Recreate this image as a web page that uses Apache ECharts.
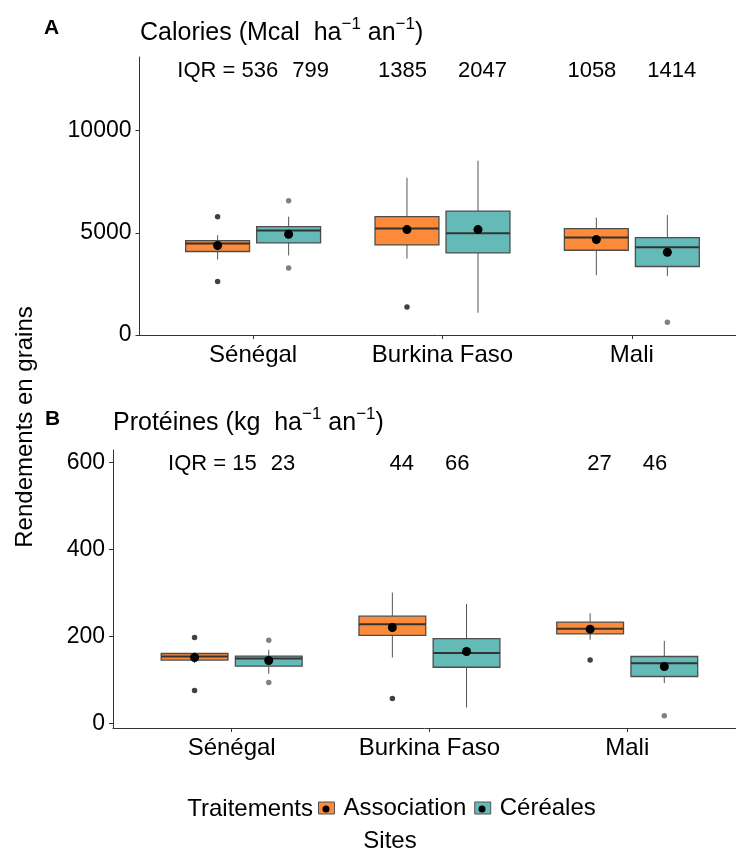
<!DOCTYPE html>
<html>
<head>
<meta charset="utf-8">
<script src="https://cdn.jsdelivr.net/npm/echarts@6/dist/echarts.min.js"></script>
<style>
  html, body { margin: 0; padding: 0; background: #fff; }
  #chart { width: 736px; height: 849px; }
</style>
</head>
<body>
<div id="chart"></div>
<script>
const sites = ['Sénégal', 'Burkina Faso', 'Mali'];
const treatments = ['Association', 'Céréales'];

// box stats per site: [whisker low, Q1, median, Q3, whisker high]
const calAssoc = [[3693, 4084, 4473, 4620, 4878], [3741, 4405, 5205, 5790, 7693], [2927, 4147, 4766, 5205, 5741]];
const calCereal = [[3888, 4503, 5107, 5302, 5790], [1088, 4017, 4976, 6064, 8522], [2893, 3352, 4293, 4766, 5868]];
const calAssocMean = [4376, 5156, 4668];
const calCerealMean = [4927, 5156, 4049];
// outliers: [site index, value]
const calAssocOut = [[0, 5790], [0, 2620], [1, 1366]];
const calCerealOut = [[0, 6571], [0, 3283], [2, 620]];
const calAssocIqr = [536, 1385, 1058];
const calCerealIqr = [799, 2047, 1414];

const proAssoc = [[138.5, 145.4, 153.7, 160.6, 163.8], [151.4, 202.3, 228, 246.3, 300.5], [192, 205.6, 217.2, 232.6, 253.2]];
const proCereal = [[114, 131.6, 149.1, 154.6, 169], [36.7, 129, 161.5, 195, 274.5], [92.7, 107.8, 138.5, 153.7, 189.7]];
const proAssocMean = [151.4, 220.2, 216.5];
const proCerealMean = [144.5, 165.1, 130.7];
const proAssocOut = [[0, 197.3], [0, 75.7], [1, 57.3], [2, 145.4]];
const proCerealOut = [[0, 191.3], [0, 94], [2, 17.7]];
const proAssocIqr = [15, 44, 27];
const proCerealIqr = [23, 66, 46];

const calTicks = [0, 5000, 10000];
const proTicks = [0, 200, 400, 600];

const FONT = '"Liberation Sans", Arial, sans-serif';
const ORANGE = '#FB8B3B';
const TEAL = '#64BAB7';
const DODGE = 0.1875;
const BOX_W = 0.3375;

var chart = echarts.init(document.getElementById('chart'));

function boxSeries(name, stats, offset, color, idx) {
    return {
        name: name,
        type: 'custom',
        xAxisIndex: idx,
        yAxisIndex: idx,
        itemStyle: {color: color},
        z: 2,
        encode: {x: 0, y: [1, 2, 3, 4, 5]},
        data: stats.map((s, i) => [i + 1 + offset].concat(s)),
        renderItem: (params, api) => {
            const x = api.value(0);
            const lo = api.coord([x, api.value(1)]);
            const q1 = api.coord([x, api.value(2)]);
            const med = api.coord([x, api.value(3)]);
            const q3 = api.coord([x, api.value(4)]);
            const hi = api.coord([x, api.value(5)]);
            const half = api.size([BOX_W, 0])[0] / 2;
            const wStyle = {stroke: '#555', lineWidth: 1};
            return {
                type: 'group',
                children: [
                    {type: 'line', shape: {x1: hi[0], y1: hi[1], x2: hi[0], y2: q3[1]}, style: wStyle},
                    {type: 'line', shape: {x1: lo[0], y1: q1[1], x2: lo[0], y2: lo[1]}, style: wStyle},
                    {type: 'rect', shape: {x: med[0] - half, y: q3[1], width: half * 2, height: q1[1] - q3[1]},
                        style: {fill: color, stroke: '#4d4d4d', lineWidth: 1.3}},
                    {type: 'line', shape: {x1: med[0] - half, y1: med[1], x2: med[0] + half, y2: med[1]},
                        style: {stroke: '#333', lineWidth: 2}}
                ]
            };
        }
    };
}

function outlierSeries(name, pts, offset, color, idx) {
    return {
        name: name + ' outliers',
        type: 'scatter',
        xAxisIndex: idx,
        yAxisIndex: idx,
        symbolSize: 5.5,
        itemStyle: {color: color, opacity: 1},
        z: 3,
        data: pts.map(p => [p[0] + 1 + offset, p[1]])
    };
}

function meanSeries(name, means, offset, idx) {
    return {
        name: name + ' mean',
        type: 'scatter',
        xAxisIndex: idx,
        yAxisIndex: idx,
        symbolSize: 9,
        itemStyle: {color: '#000', opacity: 1},
        z: 5,
        data: means.map((m, i) => [i + 1 + offset, m])
    };
}

function iqrSeries(assocIqr, cerealIqr, yPos, idx) {
    return {
        type: 'scatter',
        xAxisIndex: idx,
        yAxisIndex: idx,
        symbolSize: 0,
        silent: true,
        itemStyle: {color: '#000', opacity: 1},
        data: sites.map((s, i) => [i + 1, yPos]),
        label: {
            show: true,
            position: 'inside',
            color: '#000',
            textBorderWidth: 0,
            formatter: p => {
                const i = p.dataIndex;
                return (i === 0 ? '{t|IQR = ' + assocIqr[i] + '}{g1|}' : '{t|' + assocIqr[i] + '}{g2|}') +
                    '{t|' + cerealIqr[i] + '}';
            },
            rich: {
                t: {fontSize: 22, fontFamily: FONT, color: '#000', textBorderWidth: 0},
                g1: {width: 14},
                g2: {width: 31}
            }
        }
    };
}

function xAxis(idx, maxV) {
    return {
        type: 'value',
        gridIndex: idx,
        min: 0.4,
        max: maxV,
        splitLine: {show: false},
        axisLine: {show: true, onZero: false, lineStyle: {color: '#333', width: 1}},
        axisTick: {show: true, customValues: [1, 2, 3], length: 4, lineStyle: {color: '#333'}},
        axisLabel: {
            customValues: [1, 2, 3],
            formatter: v => sites[Math.round(v) - 1],
            fontSize: 24, fontFamily: FONT, color: '#000', margin: 8
        }
    };
}

function yAxis(idx, minV, maxV, ticks) {
    return {
        type: 'value',
        gridIndex: idx,
        min: minV,
        max: maxV,
        splitLine: {show: false},
        axisLine: {show: true, onZero: false, lineStyle: {color: '#333', width: 1}},
        axisTick: {show: true, customValues: ticks, length: 4, lineStyle: {color: '#333'}},
        axisLabel: {
            customValues: ticks,
            formatter: v => String(v),
            fontSize: 23, fontFamily: FONT, color: '#000', margin: 8
        }
    };
}

function panelTitle(txt, unit, left, top) {
    return {
        text: '{n|' + txt + ' (' + unit + '  ha}{s|\u22121}{n| an}{s|\u22121}{n|)}',
        left: left,
        top: top,
        padding: 0,
        textStyle: {
            fontWeight: 'normal',
            rich: {
                n: {fontSize: 25, fontFamily: FONT, fontWeight: 'normal', color: '#000', lineHeight: 35},
                s: {fontSize: 17, fontFamily: FONT, fontWeight: 'normal', color: '#000', lineHeight: 17, verticalAlign: 'top'}
            }
        }
    };
}

option = {
    backgroundColor: '#fff',
    animation: false,
    title: [
        panelTitle('Calories', 'Mcal', 140, 16),
        panelTitle('Protéines', 'kg', 113, 406)
    ],
    grid: [
        {left: 139.5, right: 0, top: 57, height: 278},
        {left: 113, right: 0, top: 450, height: 278}
    ],
    xAxis: [xAxis(0, 3.55), xAxis(1, 3.55)],
    yAxis: [yAxis(0, 0, 13600, calTicks), yAxis(1, -10.5, 628, proTicks)],
    legend: {
        data: treatments,
        left: 318,
        top: 796,
        padding: 0,
        itemWidth: 16,
        itemHeight: 12,
        itemGap: 8,
        icon: 'rect',
        itemStyle: {borderColor: '#555', borderWidth: 1},
        textStyle: {fontSize: 24, fontFamily: FONT, color: '#000', padding: [0, 0, 0, 4]}
    },
    graphic: [
        {type: 'text', left: 44, top: 18, style: {text: 'A', font: 'bold 21px ' + FONT, fill: '#000'}},
        {type: 'text', left: 45, top: 409, style: {text: 'B', font: 'bold 21px ' + FONT, fill: '#000'}},
        {type: 'text', x: 25, y: 427, rotation: Math.PI / 2,
            style: {text: 'Rendements en grains', font: '24px ' + FONT, fill: '#000', align: 'center', verticalAlign: 'middle'}},
        {type: 'text', x: 313, y: 809,
            style: {text: 'Traitements', font: '24px ' + FONT, fill: '#000', align: 'right', verticalAlign: 'middle'}},
        {type: 'text', x: 390, y: 841,
            style: {text: 'Sites', font: '24px ' + FONT, fill: '#000', align: 'center', verticalAlign: 'middle'}},
        {type: 'circle', shape: {cx: 326, cy: 809, r: 3.5}, style: {fill: '#000'}, z: 100},
        {type: 'circle', shape: {cx: 482, cy: 809, r: 3.5}, style: {fill: '#000'}, z: 100}
    ],
    series: [
        boxSeries(treatments[0], calAssoc, -DODGE, ORANGE, 0),
        boxSeries(treatments[1], calCereal, DODGE, TEAL, 0),
        outlierSeries(treatments[0], calAssocOut, -DODGE, '#404040', 0),
        outlierSeries(treatments[1], calCerealOut, DODGE, '#808080', 0),
        meanSeries(treatments[0], calAssocMean, -DODGE, 0),
        meanSeries(treatments[1], calCerealMean, DODGE, 0),
        iqrSeries(calAssocIqr, calCerealIqr, 12900, 0),
        boxSeries(treatments[0], proAssoc, -DODGE, ORANGE, 1),
        boxSeries(treatments[1], proCereal, DODGE, TEAL, 1),
        outlierSeries(treatments[0], proAssocOut, -DODGE, '#404040', 1),
        outlierSeries(treatments[1], proCerealOut, DODGE, '#808080', 1),
        meanSeries(treatments[0], proAssocMean, -DODGE, 1),
        meanSeries(treatments[1], proCerealMean, DODGE, 1),
        iqrSeries(proAssocIqr, proCerealIqr, 596, 1)
    ]
};

chart.setOption(option);
</script>
</body>
</html>
